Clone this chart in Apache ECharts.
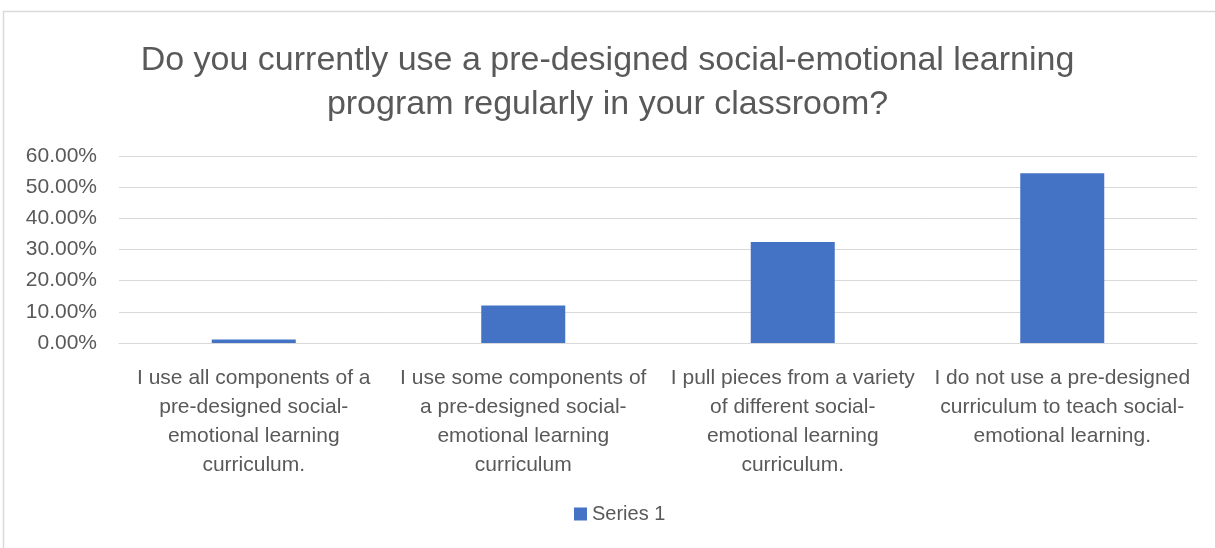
<!DOCTYPE html>
<html>
<head>
<meta charset="utf-8">
<script src="https://cdn.jsdelivr.net/npm/echarts@6/dist/echarts.min.js"></script>
<style>
  html, body { margin: 0; padding: 0; background: #fff; }
  #chart { width: 1215px; height: 548px; }
</style>
</head>
<body>
<div id="chart"></div>
<script>
const titleText = 'Do you currently use a pre-designed social-emotional learning\nprogram regularly in your classroom?'
const categories = [
  'I use all components of a\npre-designed social-\nemotional learning\ncurriculum.',
  'I use some components of\na pre-designed social-\nemotional learning\ncurriculum',
  'I pull pieces from a variety\nof different social-\nemotional learning\ncurriculum.',
  'I do not use a pre-designed\ncurriculum to teach social-\nemotional learning.',
]
const seriesName = 'Series 1'
const values = [0.011, 0.12, 0.324, 0.545]

const textColor = '#595959'
const fontFamily = 'Liberation Sans, Arial, sans-serif'

const chart = echarts.init(document.getElementById('chart'))
chart.setOption({
  animation: false,
  title: {
    text: titleText,
    left: 'center',
    top: 34,
    textStyle: { color: textColor, fontSize: 34, fontWeight: 'normal', fontFamily, lineHeight: 44 },
  },
  legend: {
    bottom: 19,
    left: 569,
    itemWidth: 13,
    itemHeight: 13,
    itemGap: 8,
    icon: 'rect',
    textStyle: { color: textColor, fontSize: 20, fontFamily },
    data: [seriesName],
  },
  grid: { left: 119, right: 18, top: 156, bottom: 205 },
  xAxis: {
    type: 'category',
    data: categories,
    axisLine: { lineStyle: { color: '#d9d9d9' } },
    axisTick: { show: false },
    axisLabel: { color: textColor, fontSize: 21, fontFamily, lineHeight: 29, interval: 0, margin: 21 },
  },
  yAxis: {
    type: 'value',
    min: 0,
    max: 0.6,
    interval: 0.1,
    splitLine: { lineStyle: { color: '#d9d9d9', width: 1 } },
    axisLabel: {
      color: textColor,
      fontSize: 21,
      fontFamily,
      margin: 22,
      formatter: (v) => (v * 100).toFixed(2) + '%',
    },
  },
  series: [
    {
      name: seriesName,
      type: 'bar',
      data: values,
      barWidth: 84,
      itemStyle: { color: '#4472C4' },
    },
  ],
  graphic: [
    {
      type: 'rect',
      shape: { x: 3.5, y: 11.5, width: 1300, height: 700 },
      style: { fill: 'none', stroke: '#d9d9d9', lineWidth: 1.5 },
      silent: true,
    },
  ],
})
</script>
</body>
</html>
